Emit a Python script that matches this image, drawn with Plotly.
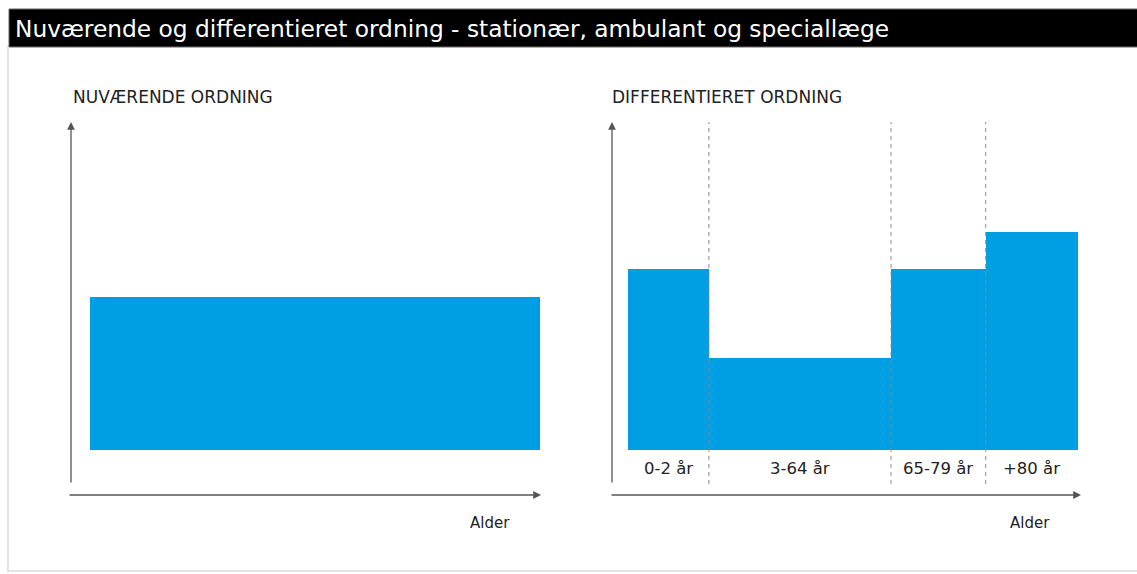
import plotly.graph_objects as go
import numpy as np

W, H = 1137, 574

# ---- data ----
title_text = "Nuværende og differentieret ordning - stationær, ambulant og speciallæge"
left_title = "NUVÆRENDE ORDNING"
right_title = "DIFFERENTIERET ORDNING"
axis_label = "Alder"

current_value = [1.0]                     # flat rate, current scheme
age_groups = ["0-2 år", "3-64 år", "65-79 år", "+80 år"]
group_widths = [1.0, 2.25, 1.17, 1.14]    # schematic widths of age bands
group_values = [1.18, 0.60, 1.18, 1.42]   # differentiated rate

BLUE = "#009FE3"
FONT = "DejaVu Sans"

def px(x):
    return x / W

def py(y):
    return 1 - y / H

edges = np.concatenate([[0], np.cumsum(group_widths)])
centers = (edges[:-1] + edges[1:]) / 2
ymax = 2.14

fig = go.Figure()
fig.add_trace(go.Bar(x=[0.5], y=current_value, width=[1.0], marker=dict(color=BLUE, line=dict(width=0)),
                     xaxis="x", yaxis="y", hoverinfo="skip", showlegend=False))
fig.add_trace(go.Bar(x=list(centers), y=group_values, width=list(group_widths),
                     marker=dict(color=BLUE, line=dict(width=0)),
                     xaxis="x2", yaxis="y2", hoverinfo="skip", showlegend=False))

shapes = []
annotations = []

# frame and title bar
shapes.append(dict(type="rect", xref="paper", yref="paper", x0=px(8), x1=px(1145), y0=py(571), y1=py(46),
                   line=dict(color="#e4e4e4", width=2), fillcolor="white", layer="below"))
shapes.append(dict(type="rect", xref="paper", yref="paper", x0=px(9), x1=px(1145), y0=py(47), y1=py(9),
                   line=dict(color="#666666", width=1), fillcolor="black", layer="below"))
annotations.append(dict(text=title_text, xref="paper", yref="paper", x=px(13), y=py(28),
                        xanchor="left", yanchor="middle", showarrow=False,
                        font=dict(family=FONT, size=23.3, color="white")))

# panel titles
annotations.append(dict(text=left_title, xref="paper", yref="paper", x=px(71), y=py(97),
                        xanchor="left", yanchor="middle", showarrow=False,
                        font=dict(family=FONT, size=17, color="#222222")))
annotations.append(dict(text=right_title, xref="paper", yref="paper", x=px(610), y=py(97),
                        xanchor="left", yanchor="middle", showarrow=False,
                        font=dict(family=FONT, size=17, color="#222222")))

# axis arrows (head at x1,y1; tail offset in pixels)
for (x0, y0, x1, y1) in [(71, 484, 71, 122), (68, 495, 541, 495),
                         (612, 484, 612, 122), (610, 495, 1081, 495)]:
    annotations.append(dict(x=px(x1), y=py(y1), ax=x0 - x1, ay=y0 - y1, xref="paper", yref="paper",
                            axref="pixel", ayref="pixel", showarrow=True, arrowhead=2,
                            arrowsize=1.2, arrowwidth=1.3, arrowcolor="#555555", text=""))

# "Alder" labels
for xc in (490, 1030):
    annotations.append(dict(text=axis_label, xref="paper", yref="paper", x=px(xc), y=py(523),
                            xanchor="center", yanchor="middle", showarrow=False,
                            font=dict(family=FONT, size=15, color="#222222")))

# dashed dividers between age groups
for e in edges[1:-1]:
    shapes.append(dict(type="line", xref="x2", yref="paper", x0=e, x1=e, y0=py(484), y1=py(122),
                       line=dict(color="#8a8a8a", width=1, dash="4px,4px")))

# age group labels
for c, lab in zip(centers, age_groups):
    annotations.append(dict(text=lab, xref="x2", yref="paper", x=c, y=py(468),
                            xanchor="center", yanchor="middle", showarrow=False,
                            font=dict(family=FONT, size=16.5, color="#222222")))

fig.update_layout(
    width=W, height=H, margin=dict(l=0, r=0, t=0, b=0),
    paper_bgcolor="white", plot_bgcolor="rgba(0,0,0,0)",
    bargap=0, showlegend=False,
    xaxis=dict(domain=[px(90), px(540)], range=[0, 1], visible=False, fixedrange=True),
    yaxis=dict(domain=[py(450), py(122)], range=[0, ymax], visible=False, fixedrange=True),
    xaxis2=dict(domain=[px(628), px(1078)], range=[0, edges[-1]], visible=False, fixedrange=True, anchor="y2"),
    yaxis2=dict(domain=[py(450), py(122)], range=[0, ymax], visible=False, fixedrange=True, anchor="x2"),
    shapes=shapes, annotations=annotations,
)

fig.write_html("out.html", config={"displayModeBar": False},
               post_script="document.body.style.margin='0';document.body.style.overflow='hidden';")
